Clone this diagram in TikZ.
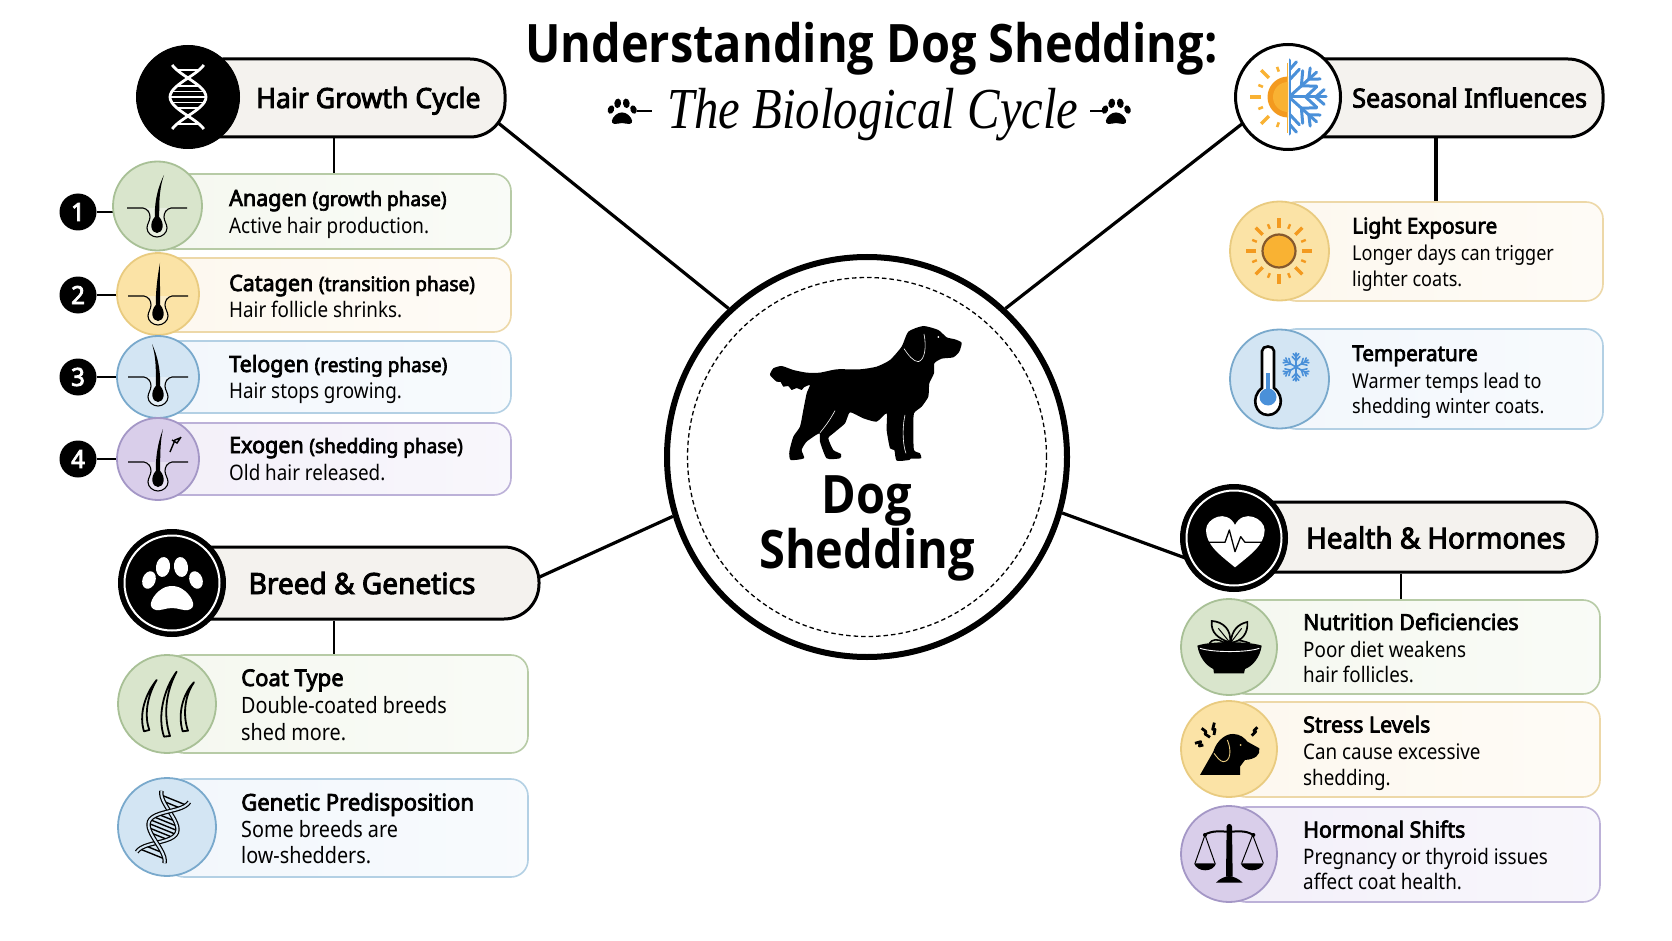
\documentclass[tikz,border=0pt]{standalone}
\usepackage{fontspec}
\usetikzlibrary{backgrounds,calc}
\setmainfont{Noto Sans}
\newfontfamily\titlef[FakeStretch=0.885]{Open Sans}
\newfontfamily\italf[FakeStretch=0.84]{Liberation Serif}
\newfontfamily\bodyf[FakeStretch=0.88]{Noto Sans}
\newfontfamily\headf[FakeStretch=0.96,FakeBold=3.2]{Noto Sans}
\definecolor{gfill}{HTML}{D9E5CC}\definecolor{gline}{HTML}{A8C096}
\definecolor{gcard}{HTML}{F5F8F0}\definecolor{gedge}{HTML}{B7CBA6}
\definecolor{yfill}{HTML}{FBE3A6}\definecolor{yline}{HTML}{E9CB80}
\definecolor{ycard}{HTML}{FDF8EF}\definecolor{yedge}{HTML}{EDD8A8}
\definecolor{bfill}{HTML}{D3E5F3}\definecolor{bline}{HTML}{79A9CC}
\definecolor{bcard}{HTML}{F2F7FC}\definecolor{bedge}{HTML}{B3D0E4}
\definecolor{pfill}{HTML}{D9CEEA}\definecolor{pline}{HTML}{A497C6}
\definecolor{pcard}{HTML}{F3F0F9}\definecolor{pedge}{HTML}{BCB1D8}
\definecolor{pillfill}{HTML}{F4F2EE}
\definecolor{sunor}{HTML}{F39A1F}\definecolor{sunin}{HTML}{F9B233}\definecolor{snowbl}{HTML}{4A90D9}
\tikzset{
  pillbox/.style={draw=black,fill=pillfill,line width=3pt,rounded corners=35pt,inner sep=0pt},
  cardbox/.style={draw=#1edge,left color=#1card,right color=#1card!55!white,line width=1.6pt,rounded corners=17pt,inner sep=0pt},
  iconcirc/.style={circle,draw=#1line,fill=#1fill,line width=1.8pt,inner sep=0pt},
  headcirc/.style={circle,draw=black,fill=black,line width=1pt,inner sep=0pt},
  badge/.style={circle,fill=black,text=white,inner sep=0pt,minimum size=37pt,font=\headf\fontsize{25}{25}\selectfont},
  bigtitle/.style={anchor=base west,inner sep=0pt,font=\titlef\bfseries\fontsize{53}{53}\selectfont},
  subtitle/.style={anchor=base west,inner sep=0pt,font=\italf\itshape\fontsize{58}{58}\selectfont},
  headlabel/.style={anchor=base west,inner sep=0pt,font=\headf\fontsize{#1}{#1}\selectfont},
  cardhead/.style={anchor=base west,inner sep=0pt,font=\headf\fontsize{#1}{#1}\selectfont},
  cardline/.style={anchor=base west,inner sep=0pt,font=\bodyf\fontsize{#1}{#1}\selectfont},
  maincon/.style={line width=3.2pt,black},
  subcon/.style={line width=1.6pt,black}
}
\newcommand{\smallnote}[1]{{\fontsize{19.8}{19.8}\selectfont #1}}
% hair follicle glyph; #3 is the horizontal offset of the hair tip
\newcommand{\follicle}[3]{%
  \begin{scope}[shift={(#1,#2)}]
    \draw[line width=1.1pt,fill=white,fill opacity=.4,draw opacity=1] (-30,2) -- (-14,2) .. controls (-9,3) and (-7,7) .. (-7,11) .. controls (-7,15) and (-10,18) .. (-10,22) .. controls (-10,27) and (-5,31) .. (0,31) .. controls (5,31) and (10,27) .. (10,22) .. controls (10,18) and (7,15) .. (7,11) .. controls (7,7) and (9,3) .. (14,2) -- (30,2);
    \fill[black] (#3,-31) .. controls (-1,-15) and (-2.4,0) .. (-2.2,11) .. controls (-8,17) and (-6,27) .. (0,27) .. controls (6,27) and (8,17) .. (2.2,11) .. controls (2.4,0) and (1.5,-15) .. (#3,-31) -- cycle;
  \end{scope}}
% paw glyph; #3 is the scale, #4 the colour
\newcommand{\pawglyph}[4]{%
  \begin{scope}[shift={(#1,#2)},scale=#3]
    \fill[#4] plot[smooth cycle,tension=.7] coordinates {(0,3) (13,8) (21,20) (16,27) (0,25) (-16,27) (-21,20) (-13,8)};
    \fill[#4] (-23,-3) ellipse [x radius=6.5,y radius=9,rotate=-20];
    \fill[#4] (-9,-16) ellipse [x radius=7,y radius=10,rotate=-8];
    \fill[#4] (9,-16) ellipse [x radius=7,y radius=10,rotate=8];
    \fill[#4] (24,-3) ellipse [x radius=6.5,y radius=9,rotate=20];
  \end{scope}}
% one snowflake arm, pointing along the local x axis
\newcommand{\snowarm}[3]{%
  \draw[#2,line width=#3pt,line cap=round] (0,0) -- (#1,0);
  \draw[#2,line width=#3pt,line cap=round] ({.45*#1},0) -- ({.75*#1},{.28*#1}) ({.45*#1},0) -- ({.75*#1},{-.28*#1});
  \draw[#2,line width=#3pt,line cap=round] ({.72*#1},0) -- ({.95*#1},{.2*#1}) ({.72*#1},0) -- ({.95*#1},{-.2*#1});}
\begin{document}
\begin{tikzpicture}[x=1pt,y=-1pt]
\useasboundingbox (0,0) rectangle (1672,941);
\begin{pgfonlayer}{background}
  \fill[white] (0,0) rectangle (1672,941);
\end{pgfonlayer}

% ---- heading ----
\node[bigtitle] (title) at (525,63) {Understanding Dog Shedding:};
\node[subtitle] (subt) at (667,129) {The Biological Cycle};
\pawglyph{622}{111}{.48}{black}
\pawglyph{1116}{111}{.48}{black}
\draw[line width=1.2pt] (637,111) -- (652,111) (1090,111) -- (1103,111);

% ---- hub ----
\node[circle,draw=black,fill=white,line width=6pt,minimum size=400pt,inner sep=0pt] (hub) at (867,457) {};
\node[circle,draw=black,line width=1.3pt,dash pattern=on 4.5pt off 3pt,minimum size=359pt,inner sep=0pt] (hubring) at (867,457) {};
\begin{scope}[shift={(660,250)},x=.3333pt,y=-.3333pt]
  \fill[black] plot[smooth cycle,tension=.35] coordinates {
    (790,228) (835,240) (860,262) (885,268) (905,278) (898,305) (880,322) (845,326) (823,340)
    (822,370) (808,400) (805,440) (785,470) (762,490) (760,540) (762,600) (780,610) (783,625)
    (752,626) (748,630) (710,632) (703,600) (690,595) (680,540) (680,490) (650,515) (610,505)
    (570,487) (555,520) (520,550) (505,565) (520,600) (543,612) (540,625) (500,625) (480,575)
    (478,550) (440,575) (425,600) (432,625) (392,630) (388,605) (400,560) (420,530) (430,480)
    (440,430) (450,405) (432,412) (425,420) (410,414) (395,420) (385,408) (370,410) (362,396) (350,395) (330,375) (340,355) (365,348)
    (400,360) (440,368) (480,368) (530,358) (600,358) (650,350) (690,330) (725,290) (745,245)};
  \draw[white,line width=.6pt] (792,252) .. controls (800,290) and (795,330) .. (775,335) .. controls (760,335) and (745,315) .. (732,296);
  \draw[white,line width=.6pt] (735,495) .. controls (725,540) and (730,590) .. (738,610);
  \draw[white,line width=.6pt] (525,482) .. controls (510,510) and (495,530) .. (480,548);
  \fill[white] (835,261) circle (3);
\end{scope}
\node[anchor=base,inner sep=0pt,font=\titlef\bfseries\fontsize{53}{53}\selectfont] (hubt1) at (867,513) {Dog};
\node[anchor=base,inner sep=0pt,font=\titlef\bfseries\fontsize{53}{53}\selectfont] (hubt2) at (867,568) {Shedding};

% ---- Hair Growth Cycle ----
\node[pillbox,minimum width=317pt,minimum height=78pt] (hair) at (346.5,98) {};
\node[headcirc,minimum size=103pt] (hairicon) at (188,97) {};
\foreach \d in {-27,-19,-11,-5.5,0,5.5,11,19,27}{
  \pgfmathsetmacro{\wx}{17*cos(180*\d/38)}
  \draw[white,line width=1.3pt] (188-\wx,97+\d) -- (188+\wx,97+\d);}
\draw[white,line width=2.8pt] plot[smooth,domain=-32:32,samples=25,variable=\t] ({188+18*cos(180*\t/38)},{97+\t});
\draw[white,line width=2.8pt] plot[smooth,domain=-32:32,samples=25,variable=\t] ({188-18*cos(180*\t/38)},{97+\t});
\node[headlabel=27.8] (hairt) at (256,108) {Hair Growth Cycle};

% Growth stages
\node[cardbox=g,minimum width=354pt,minimum height=75pt] (stA) at (334,211.5) {};
\node[cardbox=y,minimum width=353pt,minimum height=74pt] (stC) at (334.5,295) {};
\node[cardbox=b,minimum width=353pt,minimum height=72pt] (stT) at (334.5,377) {};
\node[cardbox=p,minimum width=353pt,minimum height=72pt] (stE) at (334.5,459) {};
\node[iconcirc=g,minimum size=89pt] (icA) at (157.5,206) {};
\node[iconcirc=y,minimum size=82pt] (icC) at (158,294) {};
\node[iconcirc=b,minimum size=82pt] (icT) at (158,377) {};
\node[iconcirc=p,minimum size=82pt] (icE) at (158,459) {};
\follicle{157}{206}{7}
\follicle{158}{294}{2}
\follicle{158}{375}{-6}
\follicle{158}{460}{5}
\draw[black,line width=1.4pt] (170,452) -- (175,440) -- (180,438) (172,440) -- (177,443) -- (181,437);
\node[badge] (n1) at (78,212) {1};
\node[badge] (n2) at (78,295) {2};
\node[badge] (n3) at (78,377) {3};
\node[badge] (n4) at (78,459) {4};
\node[cardhead=22.4] (tA) at (229,206) {Anagen \smallnote{(growth phase)}};
\node[cardline=21.4] (dA) at (229,233.5) {Active hair production.};
\node[cardhead=22.4] (tC) at (229,291) {Catagen \smallnote{(transition phase)}};
\node[cardline=21.4] (dC) at (229,317.5) {Hair follicle shrinks.};
\node[cardhead=22.4] (tT) at (229,372) {Telogen \smallnote{(resting phase)}};
\node[cardline=21.4] (dT) at (229,398.5) {Hair stops growing.};
\node[cardhead=22.4] (tE) at (229,453) {Exogen \smallnote{(shedding phase)}};
\node[cardline=21.4] (dE) at (229,480.5) {Old hair released.};

% ---- Breed & Genetics ----
\node[pillbox,minimum width=367pt,minimum height=72pt] (breed) at (355.5,583) {};
\node[headcirc,minimum size=107pt] (breedicon) at (172,583) {};
\node[circle,draw=white,line width=2pt,minimum size=95pt,inner sep=0pt] (breedring) at (172,583) {};
\pawglyph{172}{583}{1}{white}
\node[headlabel=29.2] (breedt) at (248.5,594) {Breed \& Genetics};
\node[cardbox=g,minimum width=361pt,minimum height=98pt] (coat) at (347.5,704) {};
\node[cardbox=b,minimum width=361pt,minimum height=98pt] (gene) at (347.5,828) {};
\node[iconcirc=g,minimum size=98pt] (coati) at (167,704) {};
\node[iconcirc=b,minimum size=98pt] (genei) at (167,827) {};
\begin{scope}[shift={(100,520)},x=.3333pt,y=-.3333pt]
  \filldraw[fill=gfill,draw=black,line width=1.8pt,line join=round]
    (170,480) .. controls (130,530) and (118,590) .. (132,634) -- (148,630) .. controls (133,590) and (140,530) .. (170,480) -- cycle
    (230,455) .. controls (190,510) and (172,590) .. (192,650) -- (210,648) .. controls (191,590) and (195,520) .. (230,455) -- cycle
    (282,487) .. controls (250,520) and (232,580) .. (248,634) -- (264,632) .. controls (249,590) and (252,530) .. (282,487) -- cycle;
\end{scope}
\begin{scope}[shift={(163,827)},rotate=-22]
  \foreach \d in {-29,-24,-10,-6,-2,2,6,10,24,29}{
    \pgfmathsetmacro{\wx}{14*cos(180*\d/34)}
    \draw[black,line width=1.4pt] (-\wx,\d) -- (\wx,\d);}
  \draw[black,line width=4.4pt] plot[smooth,domain=-33:33,samples=25,variable=\t] ({15*cos(180*\t/34)},{\t});
  \draw[bfill,line width=2pt] plot[smooth,domain=-33:33,samples=25,variable=\t] ({15*cos(180*\t/34)},{\t});
  \draw[black,line width=4.4pt] plot[smooth,domain=-33:33,samples=25,variable=\t] ({-15*cos(180*\t/34)},{\t});
  \draw[bfill,line width=2pt] plot[smooth,domain=-33:33,samples=25,variable=\t] ({-15*cos(180*\t/34)},{\t});
\end{scope}
\node[cardhead=23] (tCo) at (241,686) {Coat Type};
\node[cardline=22.5] (d1Co) at (241,713.5) {Double-coated breeds};
\node[cardline=22.5] (d2Co) at (241,740.5) {shed more.};
\node[cardhead=23] (tGe) at (241,810.5) {Genetic Predisposition};
\node[cardline=22.5] (d1Ge) at (241,837.5) {Some breeds are};
\node[cardline=22.5] (d2Ge) at (241,863.5) {low-shedders.};

% ---- Seasonal Influences ----
\node[pillbox,minimum width=315pt,minimum height=78pt] (season) at (1445.5,98) {};
\node[circle,draw=black,fill=white,line width=3pt,minimum size=105pt,inner sep=0pt] (seasonicon) at (1288,97) {};
\begin{scope}
  \clip (1240,50) rectangle (1288,150);
  \fill[sunor] (1288,97) circle (20.5);
  \fill[sunin] (1288,97) circle (15);
  \foreach \a in {135,180,225}
    \draw[sunin,line width=3.4pt] ({1288+27*cos(\a)},{97+27*sin(\a)}) -- ({1288+38*cos(\a)},{97+38*sin(\a)});
  \foreach \a in {110,158,202,250}
    \draw[sunin,line width=2.6pt] ({1288+27*cos(\a)},{97+27*sin(\a)}) -- ({1288+32*cos(\a)},{97+32*sin(\a)});
\end{scope}
\begin{scope}
  \clip (1289,50) rectangle (1340,150);
  \begin{scope}[shift={(1289,97)}]
    \foreach \a in {-90,-42,0,42,90}{
      \begin{scope}[rotate=\a]\snowarm{37}{snowbl}{3}\end{scope}}
  \end{scope}
\end{scope}
\draw[sunin,line width=1.8pt] (1287.5,63) -- (1287.5,133);
\draw[snowbl,line width=1.8pt] (1289.5,63) -- (1289.5,133);
\node[headlabel=26.2] (seasont) at (1352,107.5) {Seasonal Influences};
\node[cardbox=y,minimum width=324pt,minimum height=99pt] (light) at (1441,251.5) {};
\node[cardbox=b,minimum width=324pt,minimum height=100pt] (temp) at (1441,379) {};
\node[iconcirc=y,minimum size=99pt] (lighti) at (1279.5,251) {};
\node[iconcirc=b,minimum size=99pt] (tempi) at (1279.5,379) {};
\foreach \a in {0,45,...,315}
  \draw[sunor,line width=3.4pt] ({1279+23*cos(\a)},{251+23*sin(\a)}) -- ({1279+33*cos(\a)},{251+33*sin(\a)});
\foreach \a in {22.5,67.5,...,337.5}
  \draw[sunor,line width=2.4pt] ({1279+24*cos(\a)},{251+24*sin(\a)}) -- ({1279+29*cos(\a)},{251+29*sin(\a)});
\draw[fill=sunin,draw=brown!70!black,line width=2.2pt] (1279,251) circle (16.5);
\filldraw[fill=white,draw=black,line width=2.6pt] (1262,351) .. controls (1262,345) and (1274,345) .. (1274,351) -- (1274,388) .. controls (1286,397) and (1281,415) .. (1268,415) .. controls (1255,415) and (1250,397) .. (1262,388) -- cycle;
\fill[snowbl] (1266,373) rectangle (1270,392);
\fill[snowbl] (1268,397) circle (8.5);
\begin{scope}[shift={(1296,367)}]
  \foreach \a in {30,90,...,330}{
    \begin{scope}[rotate=\a]\snowarm{14}{snowbl}{1.6}\end{scope}}
\end{scope}
\node[cardhead=21.6] (tLi) at (1352,233.5) {Light Exposure};
\node[cardline=20.5] (d1Li) at (1352,261) {Longer days can trigger};
\node[cardline=20.5] (d2Li) at (1352,286) {lighter coats.};
\node[cardhead=21.6] (tTe) at (1352,361) {Temperature};
\node[cardline=20.5] (d1Te) at (1352,388) {Warmer temps lead to};
\node[cardline=20.5] (d2Te) at (1352,413.5) {shedding winter coats.};

% ---- Health & Hormones ----
\node[pillbox,minimum width=363pt,minimum height=70pt] (health) at (1415.5,537) {};
\node[headcirc,minimum size=107pt] (healthicon) at (1234,538) {};
\node[circle,draw=white,line width=2pt,minimum size=95pt,inner sep=0pt] (healthring) at (1234,538) {};
\begin{scope}[shift={(1170,480)},x=.3333pt,y=-.3333pt]
  \fill[white] (195,262) .. controls (150,225) and (108,195) .. (108,150) .. controls (108,115) and (170,85) .. (195,135) .. controls (220,85) and (284,115) .. (284,150) .. controls (284,195) and (240,225) .. (195,262) -- cycle;
  \draw[black,line width=1.3pt,line join=round] (108,187) -- (165,187) -- (178,150) -- (195,215) -- (212,170) -- (225,187) -- (284,187);
\end{scope}
\node[headlabel=29] (healtht) at (1306,548.5) {Health \& Hormones};
\node[cardbox=g,minimum width=371pt,minimum height=94pt] (nutr) at (1414.5,647) {};
\node[cardbox=y,minimum width=371pt,minimum height=95pt] (stress) at (1414.5,749.5) {};
\node[cardbox=p,minimum width=371pt,minimum height=95pt] (horm) at (1414.5,854.5) {};
\node[iconcirc=g,minimum size=96pt] (nutri) at (1229,647) {};
\node[iconcirc=y,minimum size=96pt] (stressi) at (1229,749) {};
\node[iconcirc=p,minimum size=96pt] (hormi) at (1229,854) {};
\begin{scope}[shift={(1170,480)},x=.3333pt,y=-.3333pt]
  % bowl with sprout
  \fill[black] (82,497) .. controls (120,483) and (235,483) .. (275,497) .. controls (270,535) and (245,560) .. (225,567) -- (222,580) -- (132,580) -- (130,567) .. controls (105,555) and (88,530) .. (82,497) -- cycle;
  \draw[white,line width=.9pt] (90,505) .. controls (130,518) and (230,518) .. (268,505);
  \draw[black,line width=1.6pt] (118,490) .. controls (125,478) and (145,475) .. (160,487) .. controls (180,478) and (210,478) .. (240,490);
  \draw[black,line width=1.7pt,fill=gfill] (180,488) .. controls (145,475) and (122,460) .. (125,423) .. controls (160,425) and (185,450) .. (180,488) -- cycle;
  \draw[black,line width=1.7pt,fill=gfill] (182,488) .. controls (185,450) and (205,432) .. (232,426) .. controls (235,460) and (215,485) .. (182,488) -- cycle;
  \draw[black,line width=1pt] (180,488) -- (145,445) (182,488) -- (215,445);
  % dog head with stress marks
  \fill[black] (90,885) -- (130,815) .. controls (140,780) and (170,760) .. (190,762) .. controls (210,762) and (225,775) .. (232,785) -- (268,805) .. controls (272,825) and (255,838) .. (225,840) -- (210,860) -- (210,885) -- cycle;
  \draw[yline,line width=.9pt] (172,780) .. controls (185,810) and (182,845) .. (160,845) .. controls (150,845) and (140,830) .. (132,820);
  \fill[yline] (212,795) circle (3);
  \draw[black,line width=2.8pt,line join=round] (75,790) -- (92,785) -- (88,798) -- (100,795)
    (95,745) -- (108,755) -- (105,762) -- (120,772)
    (133,728) -- (128,748) -- (135,748) -- (132,765)
    (262,742) -- (252,752) -- (257,755) -- (245,767);
  % balance scale
  \fill[black] (178,1040) circle (8);
  \fill[black] (170,1040) -- (186,1040) -- (188,1190) -- (168,1190) -- cycle;
  \fill[black] (138,1208) .. controls (150,1195) and (165,1190) .. (178,1188) .. controls (190,1190) and (205,1195) .. (218,1208) -- cycle;
  \draw[black,line width=2pt] (102,1065) .. controls (130,1050) and (150,1055) .. (178,1055) .. controls (205,1055) and (225,1050) .. (250,1065);
  \fill[black] (105,1065) circle (6) (250,1065) circle (6);
  \draw[black,line width=1pt] (75,1150) -- (105,1065) -- (135,1150) (215,1150) -- (248,1065) -- (280,1150);
  \fill[black] (72,1150) -- (138,1150) .. controls (130,1178) and (82,1178) .. (72,1150) -- cycle;
  \fill[black] (212,1150) -- (281,1150) .. controls (272,1178) and (222,1178) .. (212,1150) -- cycle;
\end{scope}
\node[cardhead=22.2] (tNu) at (1303,630) {Nutrition Deficiencies};
\node[cardline=21.4] (d1Nu) at (1303,657) {Poor diet weakens};
\node[cardline=21.4] (d2Nu) at (1303,682.5) {hair follicles.};
\node[cardhead=22.2] (tSt) at (1303,732.5) {Stress Levels};
\node[cardline=21.4] (d1St) at (1303,759) {Can cause excessive};
\node[cardline=21.4] (d2St) at (1303,785) {shedding.};
\node[cardhead=22.2] (tHo) at (1303,837.5) {Hormonal Shifts};
\node[cardline=21.4] (d1Ho) at (1303,864) {Pregnancy or thyroid issues};
\node[cardline=21.4] (d2Ho) at (1303,889.5) {affect coat health.};

% ---- connectors, kept behind the shapes ----
\coordinate (hairend) at (466,97);
\coordinate (breedend) at (500,595);
\coordinate (seasonend) at (1288,88);
\coordinate (healthend) at (1210,567);
\begin{pgfonlayer}{background}
  \draw[maincon] (hub.133) -- (hairend);
  \draw[maincon] (hub.47) -- (seasonend);
  \draw[maincon] (hub.197) -- (breedend);
  \draw[maincon] (hub.-16) -- (healthend);
  \draw[subcon] (hair.south -| tA.west) ++(105,0) coordinate (hairdrop) -- (hairdrop |- stA.north);
  \draw[subcon] (breed.south -| tCo.west) ++(93,0) coordinate (breeddrop) -- (breeddrop |- coat.north);
  \draw[maincon] (season.south -| tLi.west) ++(84,0) coordinate (seasondrop) -- (seasondrop |- light.north);
  \draw[subcon] (health.south -| tNu.west) ++(98,0) coordinate (healthdrop) -- (healthdrop |- nutr.north);
  \draw[subcon] (n1) -- (n1 -| icA);
  \draw[subcon] (n2) -- (n2 -| icC);
  \draw[subcon] (n3) -- (n3 -| icT);
  \draw[subcon] (n4) -- (n4 -| icE);
\end{pgfonlayer}
\end{tikzpicture}
\end{document}
